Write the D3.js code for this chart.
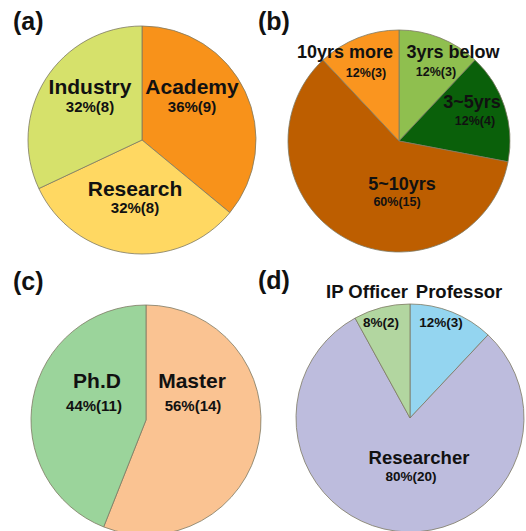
<!DOCTYPE html>
<html>
<head>
<meta charset="utf-8">
<script src="https://cdn.jsdelivr.net/npm/d3@7"></script>
<style>
  html, body { margin: 0; padding: 0; background: #fff; }
  svg { display: block; font-family: "Liberation Sans", Arial, sans-serif; }
</style>
</head>
<body>
<div id="chart"></div>
<script>
// (a) affiliation
const affCategories = ["Academy", "Research", "Industry"];
const affCounts = [9, 8, 8];
const affPct = ["36%(9)", "32%(8)", "32%(8)"];

// (b) career
const careerCategories = ["3yrs below", "3~5yrs", "5~10yrs", "10yrs more"];
const careerCounts = [3, 4, 15, 3];
const careerPct = ["12%(3)", "12%(4)", "60%(15)", "12%(3)"];

// (c) degree
const degreeCategories = ["Master", "Ph.D"];
const degreeCounts = [14, 11];
const degreePct = ["56%(14)", "44%(11)"];

// (d) position
const jobCategories = ["Professor", "Researcher", "IP Officer"];
const jobCounts = [3, 20, 2];
const jobPct = ["12%(3)", "80%(20)", "8%(2)"];

const w = 526;
const h = 531;

const svg = d3
  .select("#chart")
  .append("svg")
  .attr("width", w)
  .attr("height", h);

// layout of each panel; label offsets are relative to the pie centre
const panels = [
  {
    tag: "(a)", tagX: 13, tagY: 30,
    cx: 142, cy: 140, r: 114,
    names: affCategories, counts: affCounts, pct: affPct,
    colors: ["#f8921a", "#ffd862", "#d6e16b"],
    nameSize: 21, pctSize: 15, pctWeight: "bold",
    labels: [[50, -46, 50, -28], [-7, 56, -7, 73], [-52, -46, -52, -28]],
  },
  {
    tag: "(b)", tagX: 258, tagY: 30,
    cx: 399, cy: 141, r: 111,
    names: careerCategories, counts: careerCounts, pct: careerPct,
    colors: ["#8fbf4f", "#0a600a", "#bd5e00", "#fa951f"],
    nameSize: 18, pctSize: 12.5, pctWeight: "bold",
    labels: [[54, -83, 37, -65], [73, -33, 76, -16], [3, 49, -2, 65], [-54, -83, -33, -64]],
  },
  {
    tag: "(c)", tagX: 13, tagY: 290,
    cx: 146, cy: 420, r: 115,
    names: degreeCategories, counts: degreeCounts, pct: degreePct,
    colors: ["#fac392", "#9bd49b"],
    nameSize: 21, pctSize: 15, pctWeight: "bold",
    labels: [[46, -32, 47, -9], [-49, -32, -52, -9]],
  },
  {
    tag: "(d)", tagX: 258, tagY: 289,
    cx: 410, cy: 418, r: 114,
    names: jobCategories, counts: jobCounts, pct: jobPct,
    colors: ["#94d5f0", "#bdbcdd", "#b2d6a0"],
    nameSize: 18.5, pctSize: 13.5, pctWeight: "bold",
    labels: [[49, -120, 31, -91], [9, 46, 1, 63], [-43, -120, -29, -91]],
  },
];

const pie = d3.pie().sort(null).value((d) => d);

panels.forEach((p) => {
  const g = svg.append("g").attr("transform", `translate(${p.cx},${p.cy})`);
  const arc = d3.arc().innerRadius(0).outerRadius(p.r);

  g.selectAll("path")
    .data(pie(p.counts))
    .enter()
    .append("path")
    .attr("d", arc)
    .attr("fill", (d, i) => p.colors[i])
    .attr("stroke", "#7d7a63")
    .attr("stroke-width", 0.8);

  p.names.forEach((name, i) => {
    const [nx, ny, px, py] = p.labels[i];
    g.append("text")
      .attr("x", nx)
      .attr("y", ny)
      .attr("text-anchor", "middle")
      .attr("font-size", p.nameSize)
      .attr("font-weight", "bold")
      .attr("fill", "#111")
      .text(name);
    g.append("text")
      .attr("x", px)
      .attr("y", py)
      .attr("text-anchor", "middle")
      .attr("font-size", p.pctSize)
      .attr("font-weight", p.pctWeight)
      .attr("fill", "#111")
      .text(p.pct[i]);
  });

  svg.append("text")
    .attr("x", p.tagX)
    .attr("y", p.tagY)
    .attr("font-size", 25)
    .attr("font-weight", "bold")
    .attr("fill", "#111")
    .text(p.tag);
});
</script>
</body>
</html>
